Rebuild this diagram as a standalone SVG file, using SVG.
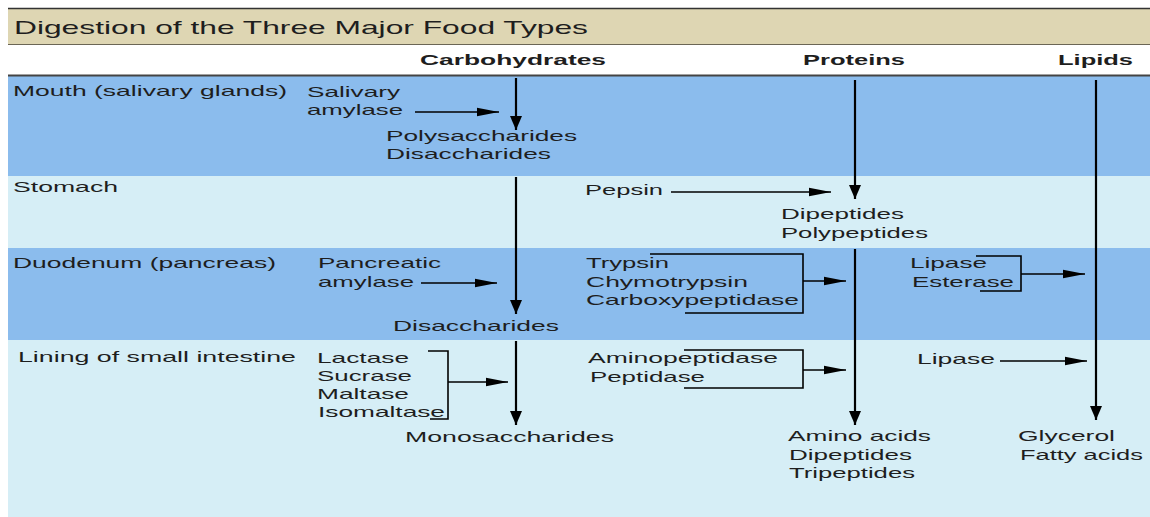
<svg xmlns="http://www.w3.org/2000/svg" width="1150" height="517" viewBox="0 0 1150 517">
<defs>
<style>
text{font-family:"Liberation Sans",Arial,sans-serif;font-size:15px;fill:#1e1e1e;}
.t{font-size:19px;}
.h{font-weight:bold;font-size:15px;}
.ln{fill:none;stroke:#000;stroke-width:1.6;}
.v{fill:none;stroke:#000;stroke-width:2.2;}
</style>
<marker id="ah" markerUnits="userSpaceOnUse" markerWidth="24" markerHeight="10" refX="22" refY="5" orient="auto">
<path d="M0,0.8 L22,5 L0,9.2 Z" fill="#000"/>
</marker>
<marker id="av" markerUnits="userSpaceOnUse" markerWidth="14" markerHeight="16" refX="14" refY="6" orient="auto">
<path d="M0,0 L14,6 L0,12 Z" fill="#000"/>
</marker>
</defs>
<rect x="0" y="0" width="1150" height="517" fill="#fff"/>
<g id="bands">
<rect x="8" y="9" width="1142" height="35" fill="#ded6b3"/>
<line x1="8" y1="8.5" x2="1150" y2="8.5" stroke="#333" stroke-width="1.5"/>
<line x1="8" y1="44.5" x2="1150" y2="44.5" stroke="#6b6655" stroke-width="1"/>
<rect x="8" y="76" width="1142" height="100" fill="#8bbced"/>
<rect x="8" y="176" width="1142" height="72" fill="#d6eef6"/>
<rect x="8" y="248" width="1142" height="92" fill="#8bbced"/>
<rect x="8" y="340" width="1142" height="177" fill="#d6eef6"/>
<line x1="8" y1="75.5" x2="1150" y2="75.5" stroke="#444" stroke-width="2"/>
</g>
<g id="title"><text class="t" x="14" y="34" textLength="574" lengthAdjust="spacingAndGlyphs">Digestion of the Three Major Food Types</text></g>
<g id="col-carbohydrates"><text class="h" x="420" y="65" textLength="186" lengthAdjust="spacingAndGlyphs">Carbohydrates</text></g>
<g id="col-proteins"><text class="h" x="803" y="65" textLength="102" lengthAdjust="spacingAndGlyphs">Proteins</text></g>
<g id="col-lipids"><text class="h" x="1058" y="65" textLength="75" lengthAdjust="spacingAndGlyphs">Lipids</text></g>
<g id="row-mouth"><text x="13" y="96" textLength="274" lengthAdjust="spacingAndGlyphs">Mouth (salivary glands)</text></g>
<g id="row-stomach"><text x="13" y="192" textLength="105" lengthAdjust="spacingAndGlyphs">Stomach</text></g>
<g id="row-duodenum"><text x="13" y="268" textLength="263" lengthAdjust="spacingAndGlyphs">Duodenum (pancreas)</text></g>
<g id="row-lining"><text x="18" y="362" textLength="278" lengthAdjust="spacingAndGlyphs">Lining of small intestine</text></g>
<g id="salivary-amylase"><text x="307" y="97" textLength="93" lengthAdjust="spacingAndGlyphs">Salivary</text><text x="307" y="115" textLength="96" lengthAdjust="spacingAndGlyphs">amylase</text></g>
<g id="poly-di"><text x="386" y="141" textLength="191" lengthAdjust="spacingAndGlyphs">Polysaccharides</text><text x="386" y="159" textLength="165" lengthAdjust="spacingAndGlyphs">Disaccharides</text></g>
<g id="pepsin"><text x="585" y="195" textLength="78" lengthAdjust="spacingAndGlyphs">Pepsin</text></g>
<g id="di-poly-peptides"><text x="781" y="219" textLength="123" lengthAdjust="spacingAndGlyphs">Dipeptides</text><text x="781" y="238" textLength="147" lengthAdjust="spacingAndGlyphs">Polypeptides</text></g>
<g id="pancreatic-amylase"><text x="318" y="268" textLength="123" lengthAdjust="spacingAndGlyphs">Pancreatic</text><text x="318" y="287" textLength="96" lengthAdjust="spacingAndGlyphs">amylase</text></g>
<g id="pancreatic-proteases"><text x="586" y="268" textLength="83" lengthAdjust="spacingAndGlyphs">Trypsin</text><text x="586" y="287" textLength="162" lengthAdjust="spacingAndGlyphs">Chymotrypsin</text><text x="586" y="305" textLength="213" lengthAdjust="spacingAndGlyphs">Carboxypeptidase</text></g>
<g id="lipase-esterase"><text x="910" y="268" textLength="77" lengthAdjust="spacingAndGlyphs">Lipase</text><text x="912" y="287" textLength="102" lengthAdjust="spacingAndGlyphs">Esterase</text></g>
<g id="disaccharides"><text x="393" y="331" textLength="166" lengthAdjust="spacingAndGlyphs">Disaccharides</text></g>
<g id="brush-border-carb"><text x="317" y="363" textLength="92" lengthAdjust="spacingAndGlyphs">Lactase</text><text x="317" y="381" textLength="95" lengthAdjust="spacingAndGlyphs">Sucrase</text><text x="317" y="399" textLength="92" lengthAdjust="spacingAndGlyphs">Maltase</text><text x="318" y="417" textLength="127" lengthAdjust="spacingAndGlyphs">Isomaltase</text></g>
<g id="brush-border-prot"><text x="588" y="363" textLength="190" lengthAdjust="spacingAndGlyphs">Aminopeptidase</text><text x="590" y="382" textLength="115" lengthAdjust="spacingAndGlyphs">Peptidase</text></g>
<g id="lipase-lining"><text x="917" y="364" textLength="78" lengthAdjust="spacingAndGlyphs">Lipase</text></g>
<g id="monosaccharides"><text x="405" y="442" textLength="209" lengthAdjust="spacingAndGlyphs">Monosaccharides</text></g>
<g id="amino-products"><text x="788" y="441" textLength="143" lengthAdjust="spacingAndGlyphs">Amino acids</text><text x="789" y="460" textLength="123" lengthAdjust="spacingAndGlyphs">Dipeptides</text><text x="789" y="478" textLength="126" lengthAdjust="spacingAndGlyphs">Tripeptides</text></g>
<g id="lipid-products"><text x="1018" y="441" textLength="97" lengthAdjust="spacingAndGlyphs">Glycerol</text><text x="1020" y="460" textLength="123" lengthAdjust="spacingAndGlyphs">Fatty acids</text></g>
<g id="connectors">
<path class="v" d="M516,78 V130" marker-end="url(#av)"/>
<path class="v" d="M516,177 V314" marker-end="url(#av)"/>
<path class="v" d="M516,341 V425" marker-end="url(#av)"/>
<path class="v" d="M855,80 V199" marker-end="url(#av)"/>
<path class="v" d="M855,249 V425" marker-end="url(#av)"/>
<path class="v" d="M1096,80 V420" marker-end="url(#av)"/>
<path class="ln" d="M415,112 H499" marker-end="url(#ah)"/>
<path class="ln" d="M421,283 H497" marker-end="url(#ah)"/>
<path class="ln" d="M671,192 H831" marker-end="url(#ah)"/>
<path class="ln" d="M650,254 H803 V313 H685"/>
<path class="ln" d="M803,281 H846" marker-end="url(#ah)"/>
<path class="ln" d="M976,256 H1021 V291 H980"/>
<path class="ln" d="M1021,274 H1085" marker-end="url(#ah)"/>
<path class="ln" d="M428,351 H448 V419 H430"/>
<path class="ln" d="M448,382 H508" marker-end="url(#ah)"/>
<path class="ln" d="M684,350 H803 V388 H684"/>
<path class="ln" d="M803,370 H846" marker-end="url(#ah)"/>
<path class="ln" d="M1000,361 H1087" marker-end="url(#ah)"/>
</g>
</svg>
